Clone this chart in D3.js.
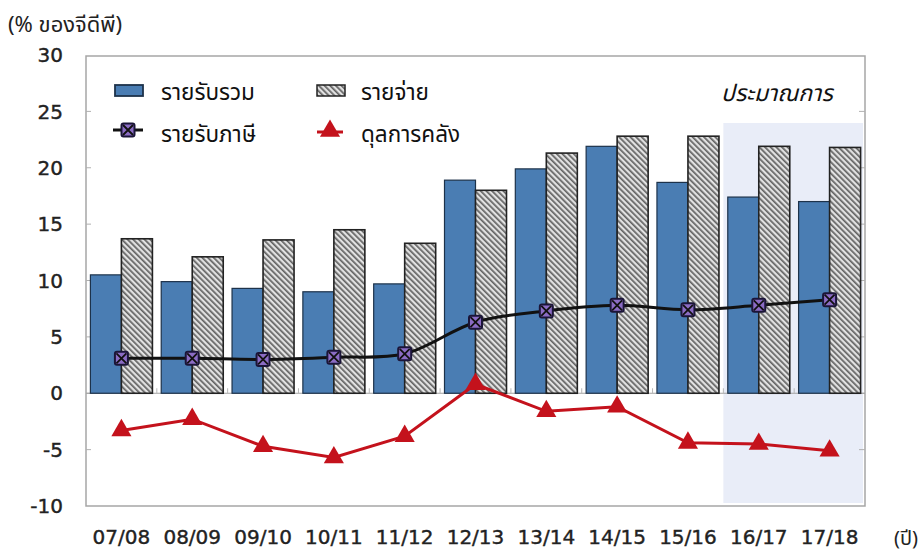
<!DOCTYPE html>
<html><head><meta charset="utf-8">
<script src="https://cdn.jsdelivr.net/npm/d3@7"></script>
<style>body{margin:0;background:#fff} svg text{font-family:"DejaVu Sans",sans-serif}</style>
</head><body><svg id="c" width="922" height="554"></svg>
<script>
const categories = ["07/08","08/09","09/10","10/11","11/12","12/13","13/14","14/15","15/16","16/17","17/18"];
const totalRevenue = [10.5,9.9,9.3,9.0,9.7,18.9,19.9,21.9,18.7,17.4,17.0];
const expenditure = [13.7,12.1,13.6,14.5,13.3,18.0,21.3,22.8,22.8,21.9,21.8];
const taxRevenue = [3.1,3.1,3.0,3.2,3.5,6.3,7.3,7.8,7.4,7.8,8.3];
const fiscalBalance = [-3.3,-2.3,-4.7,-5.7,-3.8,0.8,-1.6,-1.2,-4.4,-4.5,-5.1];
const yTicks = [-10,-5,0,5,10,15,20,25,30];
const seriesNames = ["รายรับรวม","รายจ่าย","รายรับภาษี","ดุลการคลัง"];
const estimateStart = "16/17";
const estimateLabel = "ประมาณการ";
const yTitle = "(% ของจีดีพี)";
const xTitle = "(ปี)";

const svg = d3.select("#c");
const L = 86, R = 865, T = 56, B = 506;
const x = d3.scaleBand().domain(categories).range([L, R]);
const y = d3.scaleLinear().domain([-10, 30]).range([B, 55]);
const thai = '"Noto Sans Thai","Tahoma","Leelawadee UI","Noto Sans","DejaVu Sans",sans-serif';

const defs = svg.append("defs");
const pat = defs.append("pattern").attr("id","hatch").attr("patternUnits","userSpaceOnUse")
  .attr("width",4).attr("height",4).attr("patternTransform","rotate(-45)");
pat.append("rect").attr("width",4).attr("height",4).attr("fill","#e2e2e2");
pat.append("rect").attr("x",0).attr("width",1.7).attr("height",4).attr("fill","#626262");

// estimate shading
svg.append("rect").attr("x", x(estimateStart)).attr("y", 123)
  .attr("width", R - 2 - x(estimateStart)).attr("height", B - 3 - 123)
  .attr("fill", "#e9edf8");

// frame
svg.append("rect").attr("x", L).attr("y", T).attr("width", R - L).attr("height", B - T)
  .attr("fill", "none").attr("stroke", "#a6a6a6").attr("stroke-width", 1.5);

// y ticks
const yAxis = svg.append("g");
yAxis.selectAll("text").data(yTicks).join("text")
  .attr("x", 63).attr("y", d => y(d)).attr("dy", "0.36em").attr("text-anchor", "end")
  .attr("font-size", 20).attr("fill", "#222").attr("stroke","#222").attr("stroke-width",0.4).text(d => d);
yAxis.selectAll("line.l").data(yTicks.filter(d => d > -10 && d < 30)).join("line").attr("class","l")
  .attr("x1", L).attr("x2", L + 5).attr("y1", d => y(d)).attr("y2", d => y(d))
  .attr("stroke", "#b0b0b0").attr("stroke-width", 1);
yAxis.selectAll("line.r").data(yTicks.filter(d => d > -10 && d < 30)).join("line").attr("class","r")
  .attr("x1", R - 6).attr("x2", R).attr("y1", d => y(d)).attr("y2", d => y(d))
  .attr("stroke", "#b0b0b0").attr("stroke-width", 1);

// zero axis with small category ticks
svg.append("line").attr("x1", L).attr("x2", R).attr("y1", y(0)).attr("y2", y(0))
  .attr("stroke", "#a0a0a0").attr("stroke-width", 1.2);
svg.selectAll("line.ct").data(categories.slice(1)).join("line").attr("class","ct")
  .attr("x1", d => x(d)).attr("x2", d => x(d)).attr("y1", y(0)).attr("y2", y(0) - 5)
  .attr("stroke", "#b8b8b8");

const bw = 31;
const cx = d => x(d) + x.bandwidth() / 2;
svg.selectAll("rect.rev").data(categories).join("rect").attr("class","rev")
  .attr("x", d => cx(d) - bw).attr("width", bw)
  .attr("y", (d,i) => y(totalRevenue[i])).attr("height", (d,i) => y(0) - y(totalRevenue[i]))
  .attr("fill", "#4a7db3").attr("stroke", "#1d324a").attr("stroke-width", 1.2);
svg.selectAll("rect.exp").data(categories).join("rect").attr("class","exp")
  .attr("x", d => cx(d)).attr("width", bw)
  .attr("y", (d,i) => y(expenditure[i])).attr("height", (d,i) => y(0) - y(expenditure[i]))
  .attr("fill", "url(#hatch)").attr("stroke", "#222").attr("stroke-width", 1.6);

// tax revenue line (smoothed)
const line = d3.line().x((d,i) => cx(categories[i])).y(d => y(d));
svg.append("path").datum(taxRevenue).attr("d", line.curve(d3.curveCatmullRom.alpha(0.5)))
  .attr("fill","none").attr("stroke","#111").attr("stroke-width",3);
function taxMarker(g, px, py) {
  g.append("rect").attr("x", px - 6.5).attr("y", py - 6.5).attr("width", 13).attr("height", 13)
    .attr("rx", 2).attr("fill", "#8b6cc4").attr("stroke", "#1b1538").attr("stroke-width", 2);
  g.append("path").attr("d", `M${px-5},${py-5}L${px+5},${py+5}M${px+5},${py-5}L${px-5},${py+5}`)
    .attr("stroke", "#111").attr("stroke-width", 1.8);
}
taxRevenue.forEach((v,i) => taxMarker(svg.append("g"), cx(categories[i]), y(v)));

// fiscal balance line
const line2 = d3.line().x((d,i) => cx(categories[i])).y(d => y(d));
svg.append("path").datum(fiscalBalance).attr("d", line2)
  .attr("fill","none").attr("stroke","#c4121c").attr("stroke-width",3);
const tri = d3.symbol().type(d3.symbolTriangle).size(175);
svg.selectAll("path.tri").data(fiscalBalance).join("path").attr("class","tri")
  .attr("d", tri).attr("transform", (d,i) => `translate(${cx(categories[i])},${y(d)})`)
  .attr("fill", "#c4121c");

// x labels
svg.selectAll("text.xl").data(categories).join("text").attr("class","xl")
  .attr("x", d => cx(d)).attr("y", 544).attr("text-anchor","middle")
  .attr("font-size", 20).attr("fill", "#222").attr("stroke","#222").attr("stroke-width",0.4).text(d => d);

// titles
svg.append("text").attr("x", 8).attr("y", 32).attr("font-size", 22).attr("fill","#222")
  .style("font-family", thai).text(yTitle);
svg.append("text").attr("x", 918).attr("y", 545).attr("text-anchor","end").attr("font-size", 20).attr("fill","#222")
  .style("font-family", thai).text(xTitle);
svg.append("text").attr("x", 721).attr("y", 101).attr("font-size", 23).attr("font-style","italic")
  .attr("fill","#111").style("font-family", thai).text(estimateLabel);

// legend
const lg = svg.append("g");
lg.append("rect").attr("x",115).attr("y",85).attr("width",28).attr("height",11)
  .attr("fill","#4a7db3").attr("stroke","#1d324a").attr("stroke-width",1.8);
lg.append("rect").attr("x",317).attr("y",85).attr("width",28).attr("height",11)
  .attr("fill","url(#hatch)").attr("stroke","#222").attr("stroke-width",1.5);
lg.append("line").attr("x1",113).attr("x2",143).attr("y1",130).attr("y2",130)
  .attr("stroke","#111").attr("stroke-width",3);
taxMarker(lg, 128, 130);
lg.append("line").attr("x1",317).attr("x2",343).attr("y1",132).attr("y2",132)
  .attr("stroke","#c4121c").attr("stroke-width",3);
lg.append("path").attr("d", tri).attr("transform","translate(330,131)").attr("fill","#c4121c");
const legPos = [[161,100],[361,100],[161,142],[361,142]];
lg.selectAll("text").data(seriesNames).join("text")
  .attr("x",(d,i)=>legPos[i][0]).attr("y",(d,i)=>legPos[i][1])
  .attr("font-size",22.5).attr("fill","#111").style("font-family", thai).text(d=>d);
</script></body></html>
